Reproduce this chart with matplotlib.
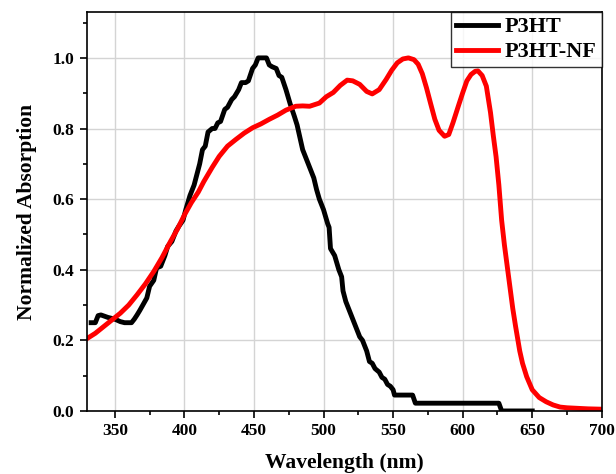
import numpy as np
import matplotlib
matplotlib.use("Agg")
import matplotlib.pyplot as plt
from matplotlib.ticker import MultipleLocator

# P3HT (stepped spectrum)
wl_p3ht = [333, 336, 338, 340, 345, 350, 354, 357, 362, 364, 366, 368, 371, 373,
           375, 378, 380, 383, 386, 388, 391, 394, 396, 399, 401, 404, 407, 409,
           411, 413, 415, 417, 420, 422, 424, 426, 429, 431, 434, 436, 439, 441,
           444, 446, 449, 451, 453, 459, 461, 463, 466, 468, 470, 473, 476, 479,
           481, 485, 488, 491, 493, 495, 497, 500, 503, 504, 505, 508, 511, 513,
           514, 516, 520, 523, 526, 528, 531, 533, 535, 537, 540, 542, 544, 546,
           548, 550, 551, 564, 566, 626, 628, 650]
abs_p3ht = [0.25, 0.25, 0.27, 0.272, 0.265, 0.26, 0.253, 0.25, 0.25, 0.26, 0.272,
            0.285, 0.306, 0.32, 0.353, 0.37, 0.405, 0.41, 0.44, 0.466, 0.48, 0.51,
            0.523, 0.54, 0.57, 0.61, 0.64, 0.67, 0.70, 0.74, 0.75, 0.79, 0.80, 0.80,
            0.816, 0.82, 0.854, 0.86, 0.882, 0.89, 0.91, 0.93, 0.93, 0.935, 0.97,
            0.98, 1.0, 1.0, 0.98, 0.975, 0.97, 0.95, 0.945, 0.91, 0.87, 0.835, 0.81,
            0.74, 0.71, 0.68, 0.66, 0.627, 0.60, 0.57, 0.53, 0.52, 0.46, 0.44, 0.40,
            0.38, 0.34, 0.31, 0.27, 0.24, 0.21, 0.20, 0.17, 0.14, 0.135, 0.12, 0.11,
            0.095, 0.09, 0.075, 0.07, 0.06, 0.045, 0.045, 0.022, 0.022, 0.0, 0.0]

# P3HT-NF
wl_nf = [330, 336, 342, 348, 354, 360, 366, 372, 378, 384, 390, 395, 400, 405, 410,
         414, 420, 425, 431, 437, 443, 449, 455, 461, 467, 473, 480, 485, 490, 497,
         502, 507, 512, 517, 521, 526, 531, 535, 540, 545, 549, 553, 557, 561, 565,
         568, 571, 574, 577, 580, 583, 587, 590, 593, 597, 600, 603, 606, 609, 611,
         614, 617, 620, 622, 624, 626, 628, 630, 632, 634, 636, 638, 641, 643, 646,
         650, 655, 660, 665, 670, 675, 680, 690, 700]
abs_nf = [0.205, 0.22, 0.239, 0.258, 0.277, 0.30, 0.329, 0.36, 0.395, 0.435, 0.48,
          0.515, 0.555, 0.59, 0.62, 0.65, 0.69, 0.721, 0.75, 0.769, 0.787, 0.802,
          0.813, 0.826, 0.838, 0.852, 0.863, 0.864, 0.863, 0.872, 0.89, 0.902,
          0.922, 0.937, 0.935, 0.925, 0.905, 0.898, 0.91, 0.939, 0.965, 0.986,
          0.997, 1.0, 0.995, 0.982, 0.955, 0.915, 0.87, 0.826, 0.795, 0.778, 0.783,
          0.816, 0.865, 0.901, 0.935, 0.953, 0.962, 0.963, 0.95, 0.92, 0.845, 0.78,
          0.72, 0.64, 0.54, 0.47, 0.41, 0.35, 0.29, 0.24, 0.17, 0.135, 0.097, 0.06,
          0.038, 0.026, 0.017, 0.011, 0.009, 0.008, 0.006, 0.005]

plt.rcParams['font.family'] = ['Liberation Serif', 'DejaVu Serif']
plt.rcParams['font.weight'] = 'bold'

fig = plt.figure(figsize=(6.16, 4.74), dpi=100)
ax = fig.add_axes([0.1412, 0.133, 0.8358, 0.8417])

ax.plot(wl_p3ht, abs_p3ht, color='black', lw=3.5, label='P3HT')
ax.plot(wl_nf, abs_nf, color='#ff0000', lw=3.5, label='P3HT-NF')

ax.set_xlim(330, 700)
ax.set_ylim(0, 1.13)
ax.xaxis.set_major_locator(MultipleLocator(50))
ax.xaxis.set_minor_locator(MultipleLocator(25))
ax.yaxis.set_major_locator(MultipleLocator(0.2))
ax.yaxis.set_minor_locator(MultipleLocator(0.1))
ax.grid(True, which='major', color='#d4d4d4', lw=1)
ax.set_axisbelow(True)
ax.tick_params(which='both', direction='out', top=False, right=False,
               labelsize=12.5, width=1.2, pad=4)
ax.tick_params(which='major', length=5)
ax.tick_params(which='minor', length=3)
for sp in ax.spines.values():
    sp.set_linewidth(1.2)

ax.set_xlabel('Wavelength (nm)', fontsize=15.5, fontweight='bold', labelpad=10)
ax.set_ylabel('Normalized Absorption', fontsize=15.5, fontweight='bold', labelpad=11)

leg = ax.legend(loc='upper right', fontsize=16, frameon=True, fancybox=False,
                borderaxespad=0, handlelength=1.9, borderpad=0.22,
                labelspacing=0.2, handletextpad=0.3)
leg.get_frame().set_edgecolor('black')
leg.get_frame().set_linewidth(1)
for t in leg.get_texts():
    t.set_fontweight('bold')

fig.savefig('out.png', dpi=100)
